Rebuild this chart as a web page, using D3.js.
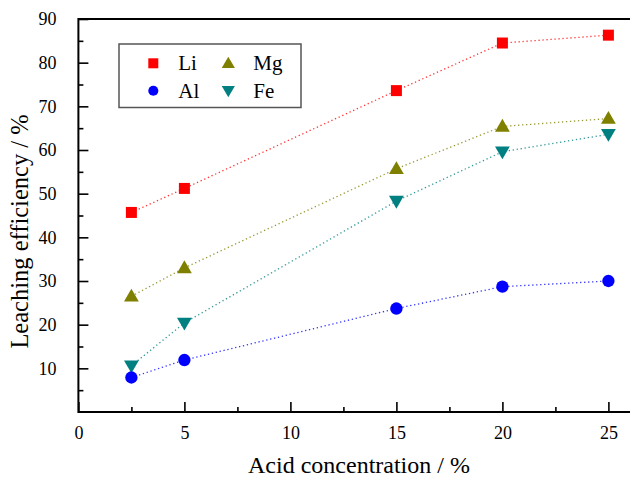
<!DOCTYPE html>
<html>
<head>
<meta charset="utf-8">
<script src="https://cdn.jsdelivr.net/npm/d3@7"></script>
<style>
  html, body { margin: 0; padding: 0; background: #fff; }
  svg { display: block; }
  svg text { font-family: 'Liberation Serif', 'Times New Roman', Times, 'DejaVu Serif', serif !important; fill: #000; }
</style>
</head>
<body>
<script>
// ---- data ----
const concentrations = [2.5, 5, 15, 20, 25];
const seriesNames = ["Li", "Al", "Mg", "Fe"];
const liValues = [45.7, 51.2, 73.6, 84.5, 86.3];
const alValues = [7.9, 11.9, 23.7, 28.7, 30.0];
const mgValues = [26.5, 33.0, 55.7, 65.4, 67.2];
const feValues = [10.6, 20.4, 48.3, 59.6, 63.6];
const xTicks = [0, 5, 10, 15, 20, 25];
const yTicks = [10, 20, 30, 40, 50, 60, 70, 80, 90];
const xTitle = "Acid concentration / %";
const yTitle = "Leaching efficiency / %";

const W = 630, H = 479;
const pLeft = 78.4, pTop = 19, pBottom = 412, pRight = 629.6;

const svg = d3.select("body").append("svg").attr("width", W).attr("height", H);

const x = d3.scaleLinear().domain([0, 26]).range([pLeft, pRight]);
const y = d3.scaleLinear().domain([0, 90]).range([pBottom, pTop]);

const styles = {
  Li: { color: "#ff0000", symbol: d3.symbolSquare, size: 121, legendSize: 100 },
  Al: { color: "#0000ff", symbol: d3.symbolCircle, size: 120, legendSize: 80 },
  Mg: { color: "#808000", symbol: d3.symbolTriangle, size: 95, legendSize: 75, rot: 0 },
  Fe: { color: "#008080", symbol: d3.symbolTriangle, size: 95, legendSize: 75, rot: 180 }
};
const valuesBy = { Li: liValues, Al: alValues, Mg: mgValues, Fe: feValues };

// lines
const line = d3.line().x(d => x(d[0])).y(d => y(d[1]));
const drawOrder = ["Li", "Mg", "Fe", "Al"];
drawOrder.forEach(name => {
  const pts = concentrations.map((c, i) => [c, valuesBy[name][i]]);
  svg.append("path").datum(pts)
    .attr("d", line)
    .attr("fill", "none")
    .attr("stroke", styles[name].color)
    .attr("stroke-width", 1.3)
    .attr("stroke-dasharray", "1.3,2.7")
    .attr("opacity", 0.8);
});
drawOrder.forEach(name => {
  const st = styles[name];
  const pts = concentrations.map((c, i) => [c, valuesBy[name][i]]);
  svg.append("g").selectAll("path").data(pts).join("path")
    .attr("d", d3.symbol().type(st.symbol).size(st.size))
    .attr("transform", d => `translate(${x(d[0])},${y(d[1]) + (st.symbol === d3.symbolTriangle ? (st.rot ? -1 : 1) : 0)}) rotate(${st.rot || 0})`)
    .attr("fill", st.color);
});

// axes (ticks inward)
const xMinor = d3.range(2.5, 26, 5);
const yMinor = d3.range(5, 90, 10);
const gx = svg.append("g").attr("transform", `translate(0,${pBottom})`);
gx.call(d3.axisBottom(x).tickValues(xTicks).tickSize(-10).tickPadding(14.5).tickFormat(d3.format("d")));
gx.append("g").call(d3.axisBottom(x).tickValues(xMinor).tickSize(-5).tickFormat(""));
const gy = svg.append("g").attr("transform", `translate(${pLeft},0)`);
gy.call(d3.axisLeft(y).tickValues(yTicks).tickSize(-10).tickPadding(22).tickFormat(d3.format("d")));
gy.append("g").call(d3.axisLeft(y).tickValues(yMinor).tickSize(-5).tickFormat(""));
svg.selectAll(".domain").remove();
svg.selectAll("g").attr("font-family", null);
svg.selectAll(".tick line").attr("stroke", "#000").attr("stroke-width", 1.6);
svg.selectAll(".tick text").attr("font-size", 18).attr("fill", "#000");

// frame (right side falls just outside the picture, as in the reference)
svg.append("rect").attr("x", pLeft).attr("y", pTop).attr("width", W + 3 - pLeft).attr("height", pBottom - pTop)
  .attr("fill", "none").attr("stroke", "#000").attr("stroke-width", 2);

// titles
svg.append("text").attr("x", 359).attr("y", 473).attr("text-anchor", "middle")
  .attr("font-size", 24).text(xTitle);
svg.append("text").attr("transform", "translate(28,231.5) rotate(-90)").attr("text-anchor", "middle")
  .attr("font-size", 24.5).text(yTitle);

// legend
const lg = svg.append("g");
lg.append("rect").attr("x", 119).attr("y", 44).attr("width", 182).attr("height", 63.5)
  .attr("fill", "#fff").attr("stroke", "#555").attr("stroke-width", 1.5);
const legendPos = { Li: [153.3, 63.3], Al: [153.3, 90.7], Mg: [228.3, 63.3], Fe: [228.3, 90.7] };
seriesNames.forEach(name => {
  const st = styles[name];
  const [lx, ly] = legendPos[name];
  lg.append("path")
    .attr("d", d3.symbol().type(st.symbol).size(st.legendSize))
    .attr("transform", `translate(${lx},${ly + (st.symbol === d3.symbolTriangle ? (st.rot ? -1 : 1) : 0)}) rotate(${st.rot || 0})`)
    .attr("fill", st.color);
  lg.append("text").attr("x", lx + 25).attr("y", ly + 7).attr("font-size", 21).text(name);
});
</script>
</body>
</html>
